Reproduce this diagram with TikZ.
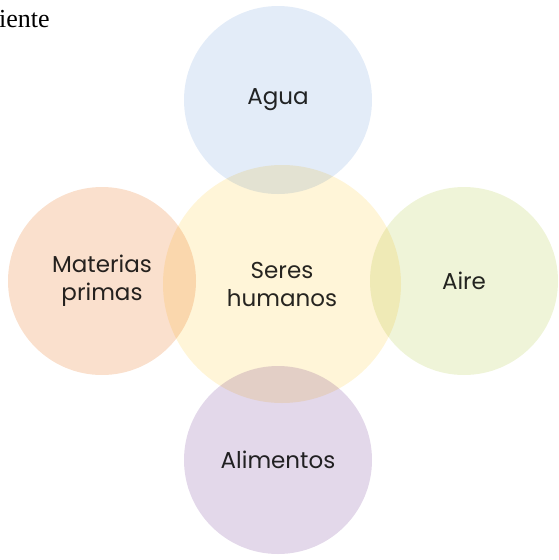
\documentclass[tikz,border=0pt]{standalone}
\usepackage{fontspec}
\setmainfont{Liberation Serif}
\newfontfamily\handfont{Poppins}

\definecolor{aguaBlue}{RGB}{227,236,248}
\definecolor{seresYellow}{RGB}{255,245,216}
\definecolor{materiasPeach}{RGB}{250,224,205}
\definecolor{aireGreen}{RGB}{239,244,216}
\definecolor{alimentosLilac}{RGB}{227,216,234}

\begin{document}
\begin{tikzpicture}[x=1pt, y=-1pt, font=\handfont\fontsize{23}{28}\selectfont,
  Bubble/.style={circle, draw=none, inner sep=0pt, align=center, minimum size=#1, text=black!85, blend mode=multiply}]

\useasboundingbox (0,0) rectangle (558,560);

\node [Bubble=238pt, fill=seresYellow] (seres) at (282,284) {Seres\\humanos};

\foreach \px/\py/\col/\name/\txt in {278/100/aguaBlue/agua/{Agua},
    102/281/materiasPeach/materias/{Materias\\primas},
    464/281/aireGreen/aire/{Aire},
    278/460/alimentosLilac/alimentos/{Alimentos}} {
  \node [Bubble=188pt, fill=\col] (\name) at (\px,\py) {\txt};
}

\node [anchor=base west, inner sep=0pt, font=\fontsize{26}{30}\selectfont] (titulo) at (-1,27) {iente};
\end{tikzpicture}
\end{document}
